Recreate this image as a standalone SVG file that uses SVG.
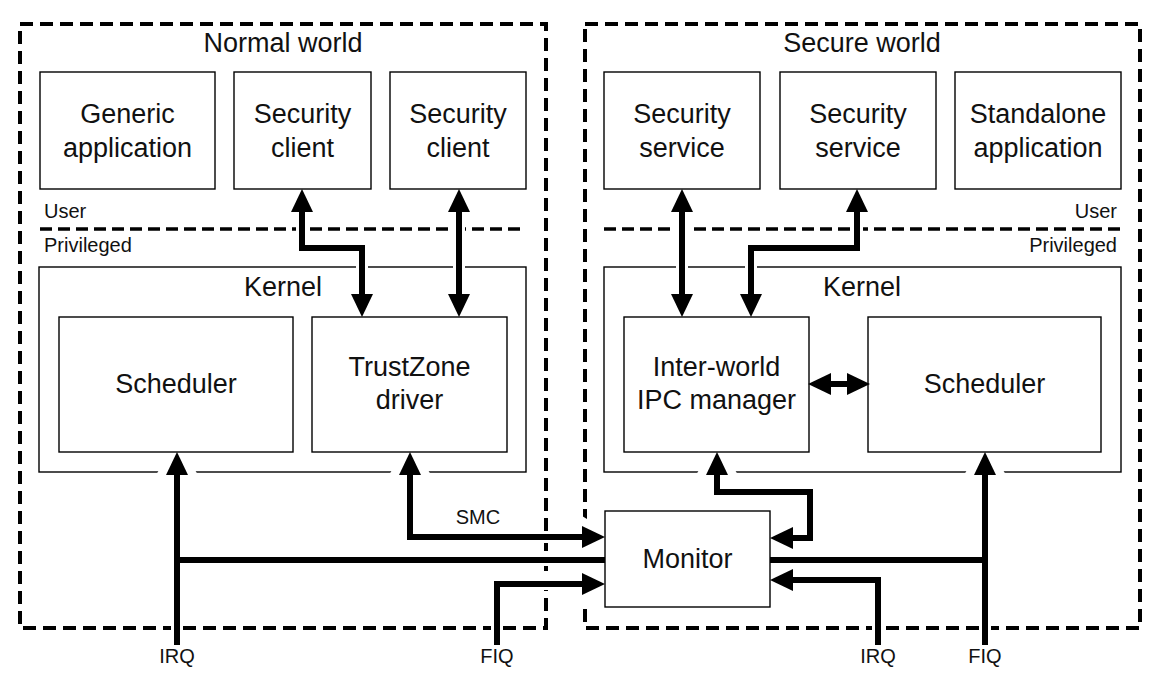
<svg xmlns="http://www.w3.org/2000/svg" width="1165" height="692" viewBox="0 0 1165 692">
<style>
text{font-family:"Liberation Sans",Arial,sans-serif;fill:#111;}
.t{font-size:27px;text-anchor:middle;}
.s{font-size:20px;}
.world{fill:none;stroke:#000;stroke-width:4;stroke-dasharray:13 7;}
.sep{fill:none;stroke:#000;stroke-width:3.5;stroke-dasharray:12 6;}
.box{fill:#fff;stroke:#000;stroke-width:1.4;}
.kbox{fill:none;stroke:#000;stroke-width:1.4;}
.halo{fill:none;stroke:#fff;stroke-width:12;stroke-linejoin:miter;}
.ln{fill:none;stroke:#000;stroke-width:6;stroke-linejoin:miter;stroke-linecap:butt;}
</style>
<defs>
<marker id="ah" markerUnits="userSpaceOnUse" markerWidth="22" markerHeight="22" refX="0" refY="0" orient="auto-start-reverse" overflow="visible"><path d="M-1,-11 L22,0 L-1,11 Z" fill="#000"/></marker>
<marker id="hh" markerUnits="userSpaceOnUse" markerWidth="40" markerHeight="48" refX="0" refY="0" orient="auto-start-reverse" overflow="visible"><path d="M-6,-24 L34,0 L-6,24 Z" fill="#fff"/></marker>
</defs>
<rect width="1165" height="692" fill="#fff"/>

<g id="normal-world">
<rect class="world" x="20" y="24" width="526" height="604"/>
<text class="t" x="283" y="52">Normal world</text>
<line class="sep" x1="40" y1="229" x2="526" y2="229"/>
<text class="s" x="44" y="218">User</text>
<text class="s" x="44" y="252">Privileged</text>
</g>
<g id="secure-world">
<rect class="world" x="585" y="24" width="555" height="604"/>
<text class="t" x="862" y="52">Secure world</text>
<line class="sep" x1="604" y1="229" x2="1121" y2="229"/>
<text class="s" x="1117" y="218" text-anchor="end">User</text>
<text class="s" x="1117" y="252" text-anchor="end">Privileged</text>
</g>
<g id="normal-kernel">
<rect class="kbox" x="39" y="267" width="487" height="205"/>
<text class="t" x="283" y="296">Kernel</text>
</g>
<g id="secure-kernel">
<rect class="kbox" x="604" y="267" width="517" height="205"/>
<text class="t" x="862" y="296">Kernel</text>
</g>

<g id="halos">
<path class="halo" d="M177,645 V474" marker-end="url(#hh)"/>
<path class="halo" d="M177,560 H605"/>
<path class="halo" d="M410,474 V537 H583" marker-start="url(#hh)" marker-end="url(#hh)"/>
<path class="halo" d="M497,645 V584 H583" marker-end="url(#hh)"/>
<path class="halo" d="M717,474 V492 H810 V538 H792" marker-start="url(#hh)" marker-end="url(#hh)"/>
<path class="halo" d="M878,645 V580 H792" marker-end="url(#hh)"/>
<path class="halo" d="M985,645 V474" marker-end="url(#hh)"/>
<path class="halo" d="M985,560 H770"/>
<path class="halo" d="M302,211 V248 H362 V295" marker-start="url(#hh)" marker-end="url(#hh)"/>
<path class="halo" d="M459,211 V295" marker-start="url(#hh)" marker-end="url(#hh)"/>
<path class="halo" d="M682,211 V295" marker-start="url(#hh)" marker-end="url(#hh)"/>
<path class="halo" d="M857,211 V248 H751 V295" marker-start="url(#hh)" marker-end="url(#hh)"/>
</g>

<g id="generic-application">
<rect class="box" x="40" y="72" width="175" height="117"/>
<text class="t" x="127.5" y="123">Generic</text>
<text class="t" x="127.5" y="157">application</text>
</g>
<g id="security-client-1">
<rect class="box" x="234" y="72" width="137" height="117"/>
<text class="t" x="302.5" y="123">Security</text>
<text class="t" x="302.5" y="157">client</text>
</g>
<g id="security-client-2">
<rect class="box" x="390" y="72" width="136" height="117"/>
<text class="t" x="458" y="123">Security</text>
<text class="t" x="458" y="157">client</text>
</g>
<g id="security-service-1">
<rect class="box" x="604" y="72" width="156" height="117"/>
<text class="t" x="682" y="123">Security</text>
<text class="t" x="682" y="157">service</text>
</g>
<g id="security-service-2">
<rect class="box" x="780" y="72" width="156" height="117"/>
<text class="t" x="858" y="123">Security</text>
<text class="t" x="858" y="157">service</text>
</g>
<g id="standalone-application">
<rect class="box" x="955" y="72" width="166" height="117"/>
<text class="t" x="1038" y="123">Standalone</text>
<text class="t" x="1038" y="157">application</text>
</g>
<g id="normal-scheduler">
<rect class="box" x="59" y="317" width="234" height="135"/>
<text class="t" x="176" y="393">Scheduler</text>
</g>
<g id="trustzone-driver">
<rect class="box" x="312" y="317" width="195" height="135"/>
<text class="t" x="409.5" y="376">TrustZone</text>
<text class="t" x="409.5" y="409">driver</text>
</g>
<g id="ipc-manager">
<rect class="box" x="624" y="317" width="185" height="135"/>
<text class="t" x="716.5" y="376">Inter-world</text>
<text class="t" x="716.5" y="409">IPC manager</text>
</g>
<g id="secure-scheduler">
<rect class="box" x="868" y="317" width="233" height="135"/>
<text class="t" x="984.5" y="393">Scheduler</text>
</g>
<g id="monitor">
<rect class="box" x="605" y="511" width="165" height="96"/>
<text class="t" x="687.5" y="568">Monitor</text>
</g>

<g id="connectors">
<path class="ln" d="M177,645 V474" marker-end="url(#ah)"/>
<path class="ln" d="M177,560 H605"/>
<path class="ln" d="M410,474 V537 H583" marker-start="url(#ah)" marker-end="url(#ah)"/>
<path class="ln" d="M497,645 V584 H583" marker-end="url(#ah)"/>
<path class="ln" d="M717,474 V492 H810 V538 H792" marker-start="url(#ah)" marker-end="url(#ah)"/>
<path class="ln" d="M878,645 V580 H792" marker-end="url(#ah)"/>
<path class="ln" d="M985,645 V474" marker-end="url(#ah)"/>
<path class="ln" d="M985,560 H770"/>
<path class="ln" d="M302,211 V248 H362 V295" marker-start="url(#ah)" marker-end="url(#ah)"/>
<path class="ln" d="M459,211 V295" marker-start="url(#ah)" marker-end="url(#ah)"/>
<path class="ln" d="M682,211 V295" marker-start="url(#ah)" marker-end="url(#ah)"/>
<path class="ln" d="M857,211 V248 H751 V295" marker-start="url(#ah)" marker-end="url(#ah)"/>
<path class="ln" d="M830,384 H848" marker-start="url(#ah)" marker-end="url(#ah)"/>
<text class="s" x="478" y="524" text-anchor="middle">SMC</text>
<text class="s" x="177" y="663" text-anchor="middle">IRQ</text>
<text class="s" x="497" y="663" text-anchor="middle">FIQ</text>
<text class="s" x="878" y="663" text-anchor="middle">IRQ</text>
<text class="s" x="985" y="663" text-anchor="middle">FIQ</text>
</g>
</svg>
